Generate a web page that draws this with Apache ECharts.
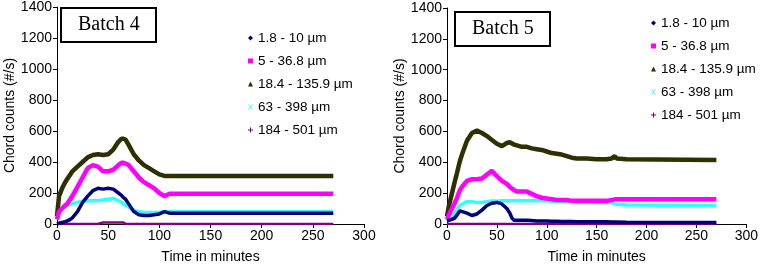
<!DOCTYPE html>
<html>
<head>
<meta charset="utf-8">
<script src="https://cdn.jsdelivr.net/npm/echarts@6/dist/echarts.min.js"></script>
<style>
  html, body { margin: 0; padding: 0; background: #fff; }
  #chart { width: 761px; height: 269px; }
</style>
</head>
<body>
<div id="chart"></div>
<script>
// size classes (legend names)
const sizeNames = ['1.8 - 10 µm', '5 - 36.8 µm', '18.4 - 135.9 µm', '63 - 398 µm', '184 - 501 µm']

// Batch 4
const b4Time = [0, 2, 5, 8, 10, 13, 15, 20, 25, 30, 35, 40, 45, 50, 55, 60, 63, 65, 67, 70, 75, 80, 85, 90, 95, 100, 105, 110, 270]
const b4Small = [0, 5, 10, 15, 20, 30, 40, 80, 140, 180, 215, 230, 225, 230, 225, 200, 185, 170, 160, 130, 80, 60, 55, 55, 60, 65, 80, 70, 70]
const b4Fine = [30, 80, 100, 120, 130, 160, 180, 240, 300, 360, 380, 370, 340, 340, 350, 380, 395, 395, 390, 380, 340, 300, 270, 250, 230, 200, 180, 195, 195]
const b4Mid = [50, 180, 230, 270, 290, 320, 340, 370, 400, 430, 445, 450, 445, 450, 480, 530, 550, 550, 545, 510, 450, 410, 380, 360, 340, 320, 310, 310, 310]
const b4Coarse = [30, 70, 100, 110, 120, 125, 130, 140, 145, 150, 150, 150, 155, 160, 165, 150, 140, 130, 120, 110, 90, 80, 75, 75, 75, 75, 80, 80, 80]
const b4Large = [0, 0, 0, 0, 0, 0, 0, 0, 0, 0, 0, 0, 10, 10, 10, 10, 10, 10, 0, 0, 0, 0, 0, 0, 0, 0, 0, 0, 0]

// Batch 5
const b5Time = [0, 2, 5, 8, 10, 13, 15, 20, 25, 30, 35, 40, 45, 50, 55, 60, 63, 65, 67, 70, 75, 80, 85, 90, 95, 100, 105, 110, 115, 120, 125, 130, 140, 150, 160, 165, 168, 170, 180, 270]
const b5Small = [20, 25, 30, 40, 50, 85, 85, 70, 55, 65, 90, 120, 135, 140, 130, 100, 70, 40, 25, 25, 25, 25, 22, 20, 20, 20, 18, 18, 17, 17, 16, 15, 15, 15, 14, 13, 13, 12, 12, 10]
const b5Fine = [30, 60, 100, 140, 170, 220, 240, 280, 290, 290, 295, 320, 345, 310, 280, 260, 240, 230, 220, 210, 210, 210, 195, 180, 170, 165, 160, 155, 155, 155, 150, 150, 150, 150, 150, 155, 160, 160, 160, 160]
const b5Mid = [50, 120, 200, 280, 330, 410, 450, 540, 590, 605, 590, 570, 545, 520, 505, 525, 530, 525, 515, 510, 500, 500, 490, 485, 480, 470, 460, 455, 450, 440, 430, 425, 425, 420, 420, 425, 440, 425, 420, 415]
const b5Coarse = [20, 30, 50, 70, 90, 120, 130, 145, 145, 140, 140, 145, 150, 148, 150, 150, 150, 150, 150, 150, 150, 150, 150, 150, 150, 150, 148, 146, 145, 145, 144, 143, 142, 140, 140, 140, 130, 125, 123, 120]
const b5Large = b5Time.map(() => 0)

const COLORS = ['#00007a', '#ff00ff', '#2f2f00', '#33ffff', '#800080']
const WIDTHS = [3.5, 4.5, 4.5, 3.5, 2.5]
const ICONS = ['diamond', 'rect', 'triangle',
  'path://M0,0 L2,0 L5,3 L8,0 L10,0 L6,4 L6,6 L10,10 L8,10 L5,7 L2,10 L0,10 L4,6 L4,4 Z',
  'path://M4,0 L6,0 L6,4 L10,4 L10,6 L6,6 L6,10 L4,10 L4,6 L0,6 L0,4 L4,4 Z']

const FONT = 'Liberation Sans, Arial, sans-serif'

function pairs(t, v) {
  return t.map((x, i) => [x, v[i]])
}

function makeSeries(gridIdx, t, sets) {
  return sets.map((vals, i) => ({
    name: sizeNames[i],
    type: 'line',
    xAxisIndex: gridIdx,
    yAxisIndex: gridIdx,
    showSymbol: false,
    smooth: false,
    z: 10 - i,
    lineStyle: { color: COLORS[i], width: WIDTHS[i] },
    itemStyle: { color: COLORS[i] },
    data: pairs(t, vals)
  }))
}

function xAxis(gridIdx) {
  return {
    type: 'value', gridIndex: gridIdx, min: 0, max: 300, interval: 50,
    name: 'Time in minutes', nameLocation: 'middle', nameGap: 26,
    nameTextStyle: { color: '#000', fontSize: 14, fontFamily: FONT },
    axisLine: { lineStyle: { color: '#000', width: 1 } },
    axisTick: { show: true, length: 4, lineStyle: { color: '#000' } },
    axisLabel: { color: '#000', fontSize: 14, fontFamily: FONT, margin: 5, formatter: v => String(v) },
    splitLine: { show: false }
  }
}

function yAxis(gridIdx) {
  return {
    type: 'value', gridIndex: gridIdx, min: 0, max: 1400, interval: 200,
    name: 'Chord counts (#/s)', nameLocation: 'middle', nameGap: 40,
    nameTextStyle: { color: '#000', fontSize: 14, fontFamily: FONT },
    axisLine: { show: true, lineStyle: { color: '#000', width: 1 } },
    axisTick: { show: true, length: 4, lineStyle: { color: '#000' } },
    axisLabel: { color: '#000', fontSize: 14, fontFamily: FONT, margin: 5, formatter: v => String(v) },
    splitLine: { show: false }
  }
}

function legend(left, top) {
  return {
    orient: 'vertical', left: left, top: top,
    itemWidth: 5, itemHeight: 5, itemGap: 9,
    selectedMode: false,
    textStyle: { color: '#000', fontSize: 13.5, fontFamily: FONT, lineHeight: 13, padding: [0, 0, 0, 0] },
    data: sizeNames.map((n, i) => ({ name: n, icon: ICONS[i], itemStyle: { color: COLORS[i] } }))
  }
}

function batchTitle(text, left, top) {
  return {
    text: text, left: left, top: top,
    borderColor: '#000', borderWidth: 2,
    padding: [7, 17, 7, 17],
    backgroundColor: '#fff',
    textStyle: { color: '#000', fontSize: 20, fontWeight: 'normal', fontFamily: 'Liberation Serif, Times New Roman, serif' }
  }
}

const chart = echarts.init(document.getElementById('chart'), null, { renderer: 'canvas' })
chart.setOption({
  animation: false,
  backgroundColor: '#fff',
  title: [batchTitle('Batch 4', 61, 8), batchTitle('Batch 5', 455, 12)],
  legend: [legend(243, 26), legend(646, 11)],
  grid: [
    { left: 57, top: 6, width: 307, height: 221 },
    { left: 447, top: 8, width: 302, height: 219 }
  ],
  xAxis: [xAxis(0), xAxis(1)],
  yAxis: [yAxis(0), yAxis(1)],
  series: [
    ...makeSeries(0, b4Time, [b4Small, b4Fine, b4Mid, b4Coarse, b4Large]),
    ...makeSeries(1, b5Time, [b5Small, b5Fine, b5Mid, b5Coarse, b5Large])
  ]
})
</script>
</body>
</html>
